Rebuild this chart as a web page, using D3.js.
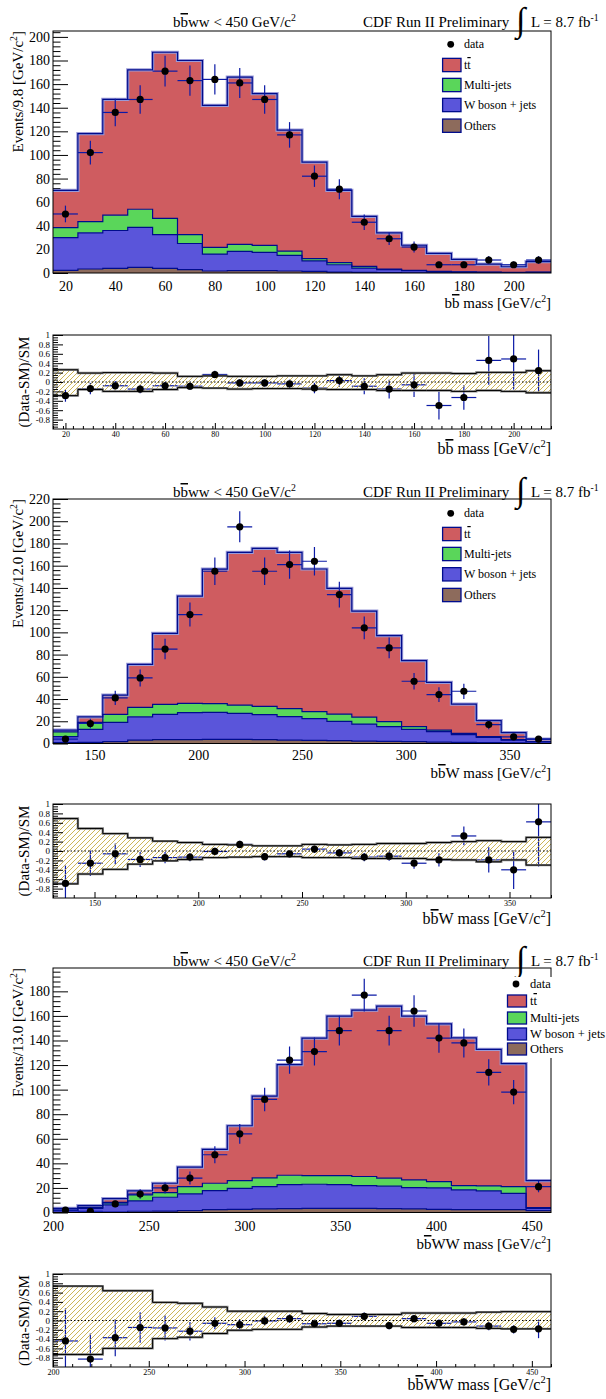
<!DOCTYPE html>
<html><head><meta charset="utf-8">
<script src="https://cdn.jsdelivr.net/npm/d3@7"></script>
<style>body{margin:0;background:#fff} svg text{font-family:"Liberation Serif","DejaVu Serif",serif;}</style>
</head><body>
<script>
// ---------------- DATA ----------------
const legendLabels = ["data", "tt̄", "Multi-jets", "W boson + jets", "Others"];

// Panel 1 : bb mass
const p1Others = [2.3,3.4,4.0,4.8,4.0,2.8,1.7,2.0,2.0,1.7,1.4,0.8,0.6,0.3,0.2,0.1,0.1,0.1,0.1,0.1];
const p1WJets  = [27.7,30.6,32.0,33.9,28.5,22.2,14.3,16.4,15.5,13.3,8.8,6.2,3.6,2.5,1.8,1.0,0.7,0.4,0.3,0.5];
const p1Multi  = [8.4,9.5,13.0,15.3,13.8,7.5,5.7,5.9,5.9,3.6,1.9,1.8,1.4,0.6,0.3,0.3,0.2,0.2,0.1,0.2];
const p1TTbar  = [31.6,74.5,98.0,118.0,140.7,147.5,120.3,141.7,128.6,102.4,81.9,61.2,42.4,30.6,21.2,15.3,10.6,6.8,4.8,8.9];
const p1Data   = [50,102,136,147,171,163,164,161,147,117,82,71,43,29,22,7,7,11,7,11];
const p1Ratio    = [-0.29,-0.14,-0.08,-0.15,-0.08,-0.09,0.16,-0.02,-0.02,-0.04,-0.13,0.03,-0.09,-0.15,-0.06,-0.5,-0.33,0.46,0.49,0.24];
const p1RatioErr = [0.13,0.12,0.1,0.09,0.08,0.08,0.08,0.08,0.08,0.09,0.11,0.13,0.17,0.2,0.26,0.3,0.26,0.52,0.65,0.45];
const p1BandUp = [0.26,0.19,0.2,0.2,0.19,0.12,0.13,0.12,0.12,0.13,0.13,0.155,0.13,0.155,0.19,0.19,0.18,0.205,0.205,0.24];
const p1BandDn = [-0.29,-0.16,-0.2,-0.2,-0.16,-0.12,-0.13,-0.15,-0.14,-0.14,-0.15,-0.16,-0.16,-0.18,-0.18,-0.18,-0.2,-0.18,-0.2,-0.23];
const p1XTicks = [20,40,60,80,100,120,140,160,180,200];
const p1YTicks = [0,20,40,60,80,100,120,140,160,180,200];

// Panel 2 : bbW mass
const p2Others = [0.7,1.0,1.6,3.1,3.4,3.4,3.7,3.7,3.4,3.1,2.8,2.5,2.2,1.9,1.6,1.3,1.0,0.7,0.5,0.3];
const p2WJets  = [5.4,11.7,17.4,20.9,22.8,24.3,24.3,23.4,22.5,21.0,19.5,17.4,15.3,13.2,11.1,9.3,6.9,4.8,2.6,1.3];
const p2Multi  = [4.4,6.3,7.2,8.5,9.0,8.4,7.8,7.5,7.5,7.2,6.3,6.6,6.3,4.5,2.4,1.5,1.2,0.6,0.3,0.2];
const p2TTbar  = [1.6,5.0,17.4,38.7,63.9,96.5,121.1,137.4,142.1,140.7,128.4,113.1,95.4,77.4,59.4,42.9,26.4,14.4,6.3,2.2];
const p2Data   = [4,18,41,59,85,116,155,195,155,161,164,134,104,86,56,44,47,17,6,4];
const p2Ratio    = [-0.69,-0.26,-0.06,-0.18,-0.14,-0.13,-0.01,0.14,-0.12,-0.06,0.04,-0.04,-0.13,-0.11,-0.26,-0.19,0.32,-0.19,-0.4,0.62];
const p2RatioErr = [0.38,0.27,0.22,0.16,0.12,0.09,0.08,0.08,0.08,0.08,0.08,0.08,0.09,0.1,0.12,0.14,0.2,0.27,0.41,0.95];
const p2BandUp = [0.69,0.48,0.37,0.28,0.21,0.18,0.14,0.13,0.11,0.11,0.14,0.13,0.14,0.16,0.16,0.18,0.2,0.22,0.2,0.29];
const p2BandDn = [-0.7,-0.49,-0.39,-0.28,-0.21,-0.18,-0.14,-0.13,-0.12,-0.12,-0.14,-0.14,-0.16,-0.16,-0.16,-0.18,-0.19,-0.23,-0.19,-0.3];
const p2XTicks = [150,200,250,300,350];
const p2YTicks = [0,20,40,60,80,100,120,140,160,180,200,220];

// Panel 3 : bbWW mass
const p3Others = [0.1,0.2,0.3,1.0,1.2,1.5,2.3,2.6,2.9,3.1,3.4,3.4,3.4,3.1,2.9,2.6,2.3,2.3,2.3,1.5];
const p3WJets  = [1.4,3.2,5.8,8.4,11.2,13.6,15.5,17.1,18.2,19.6,19.6,19.3,18.5,18.3,17.4,17.4,16.1,15.3,13.3,1.9];
const p3Multi  = [0.5,0.8,2.2,4.9,3.8,6.0,6.0,6.3,7.1,7.6,7.0,7.3,7.4,6.5,6.2,5.2,3.5,4.0,5.5,0.5];
const p3TTbar  = [1.4,1.4,3.0,3.3,7.6,15.8,27.5,44.6,66.6,90.1,111.9,129.8,135.4,140.1,133.3,128.4,120.3,111.1,100.1,22.1];
const p3Data   = [2,1,7,15,20,28,47,64,92,124,131,148,177,148,164,142,138,114,98,21];
const p3Ratio    = [-0.44,-0.83,-0.37,-0.15,-0.16,-0.23,-0.06,-0.09,-0.01,0.04,-0.07,-0.06,0.09,-0.11,0.04,-0.06,-0.03,-0.12,-0.19,-0.18];
const p3RatioErr = [0.7,0.55,0.4,0.33,0.27,0.2,0.13,0.12,0.1,0.09,0.09,0.08,0.08,0.08,0.08,0.08,0.08,0.09,0.09,0.2];
const p3BandUp = [0.74,0.74,0.64,0.64,0.39,0.37,0.29,0.2,0.2,0.2,0.15,0.13,0.13,0.13,0.16,0.16,0.16,0.18,0.19,0.19];
const p3BandDn = [-0.73,-0.73,-0.6,-0.6,-0.39,-0.36,-0.28,-0.21,-0.19,-0.19,-0.14,-0.12,-0.12,-0.12,-0.15,-0.15,-0.15,-0.17,-0.18,-0.18];
const p3XTicks = [200,250,300,350,400,450];
const p3YTicks = [0,20,40,60,80,100,120,140,160,180];

const ratioYTicks = [-0.8,-0.6,-0.4,-0.2,0,0.2,0.4,0.6,0.8,1];

// ---------------- STYLE ----------------
const FONT = "Liberation Serif, DejaVu Serif, serif";
const X0 = 53, X1 = 551;
const NAVY = "#000c8c";
const ERR = "#0b1aa6";
const COL = {ttbar:"#cf5c60", multi:"#5ad65a", wjets:"#5a55da", others:"#8d6b5c"};
const legendColors = [null, COL.ttbar, COL.multi, COL.wjets, COL.others];

const svg = d3.select("body").append("svg").attr("width",606).attr("height",1399).style("background","#fff");
const defs = svg.append("defs");
defs.append("pattern").attr("id","hatch").attr("patternUnits","userSpaceOnUse")
  .attr("width",5).attr("height",5)
  .append("path").attr("d","M-1,1 l2,-2 M0,5 l5,-5 M4,6 l2,-2")
  .attr("stroke","#c6ae45").attr("stroke-width",0.9);

function setFont(sel, size) {
  sel.style("font-family", FONT).attr("font-size", size).attr("fill", "#000");
}

function rich(g, x, y, parts, size, anchor, rotate) {
  const t = g.append("text").attr("x",x).attr("y",y)
    .attr("text-anchor",anchor||"start");
  setFont(t, size);
  if (rotate) t.attr("transform",`rotate(-90,${x},${y})`);
  let shift = 0;
  parts.forEach(p => {
    const ts = t.append("tspan").text(p.t);
    if (p.sup) { ts.attr("dy", -size*0.42).attr("font-size", size*0.65); shift = size*0.42; }
    else if (shift) { ts.attr("dy", shift); shift = 0; }
    if (p.over) ts.style("text-decoration","overline");
  });
  return t;
}

function header(hy) {
  const g = svg.append("g");
  rich(g, 173, hy, [{t:"b"},{t:"b",over:true},{t:"ww < 450 GeV/c"},{t:"2",sup:true}], 15);
  rich(g, 363, hy, [{t:"CDF Run II Preliminary"}], 15);
  const it = g.append("text").attr("x",516).attr("y",hy+4).text("∫");
  setFont(it, 34);
  rich(g, 531, hy, [{t:"L = 8.7 fb"},{t:"-1",sup:true}], 15);
}

function drawMain(c) {
  const g = svg.append("g");
  const x = d3.scaleLinear().domain(c.xdom).range([X0, X1]);
  const y = d3.scaleLinear().domain([0, c.ymax]).range([c.bottom, c.top]);
  const n = c.data.length, bw = (c.xdom[1]-c.xdom[0])/n;
  const rows = c.data.map((d,i)=>({lo:c.xdom[0]+i*bw, others:c.others[i], wjets:c.wjets[i], multi:c.multi[i], ttbar:c.ttbar[i], data:d}));
  const series = d3.stack().keys(["others","wjets","multi","ttbar"])(rows);

  // ticks (under the histograms)
  const minor = d3.range(0, c.ymax+0.001, 4).filter(v => v % 20 !== 0);
  const ym = g.append("g").attr("transform",`translate(${X0},0)`)
    .call(d3.axisLeft(y).tickValues(minor).tickSizeInner(-7.5).tickSizeOuter(0).tickFormat(""));
  ym.select(".domain").remove();
  const ya = g.append("g").attr("transform",`translate(${X0},0)`)
    .call(d3.axisLeft(y).tickValues(c.yTicks).tickSizeInner(-15).tickSizeOuter(0).tickPadding(3).tickFormat(d3.format("d")));
  ya.select(".domain").remove();
  setFont(ya.selectAll("text"), 14);

  const clipId = "clip"+c.id;
  g.append("clipPath").attr("id",clipId).append("rect").attr("x",X0).attr("y",c.top).attr("width",X1-X0).attr("height",c.bottom-c.top);
  const plot = g.append("g").attr("clip-path",`url(#${clipId})`);
  const pts = s => { const p = s.map((v,i)=>({x:rows[i].lo, y0:v[0], y1:v[1]})); p.push({x:c.xdom[1], y0:s[n-1][0], y1:s[n-1][1]}); return p; };
  const area = d3.area().curve(d3.curveStepAfter).x(p=>x(p.x)).y0(p=>y(p.y0)).y1(p=>y(p.y1));
  const line = d3.line().curve(d3.curveStepAfter).x(p=>x(p.x)).y(p=>y(p.y1));
  plot.selectAll("path.fill").data(series).join("path").attr("class","fill")
    .attr("d", s => area(pts(s))).attr("fill", s => COL[s.key]);
  plot.append("path").attr("d", line(pts(series[3]))).attr("fill","none").attr("stroke","#9a9ad8").attr("stroke-width",3.2);
  plot.selectAll("path.edge").data(series).join("path").attr("class","edge")
    .attr("d", s => line(pts(s))).attr("fill","none").attr("stroke",NAVY).attr("stroke-width",1.2);

  // data points
  const dp = plot.append("g");
  dp.selectAll("line.h").data(rows).join("line").attr("class","h")
    .attr("x1",r=>x(r.lo)).attr("x2",r=>x(r.lo+bw)).attr("y1",r=>y(r.data)).attr("y2",r=>y(r.data))
    .attr("stroke",ERR).attr("stroke-width",1.2);
  dp.selectAll("line.v").data(rows).join("line").attr("class","v")
    .attr("x1",r=>x(r.lo+bw/2)).attr("x2",r=>x(r.lo+bw/2))
    .attr("y1",r=>y(r.data-Math.sqrt(r.data))).attr("y2",r=>y(r.data+Math.sqrt(r.data)))
    .attr("stroke",ERR).attr("stroke-width",1.2);
  dp.selectAll("circle").data(rows).join("circle")
    .attr("cx",r=>x(r.lo+bw/2)).attr("cy",r=>y(r.data)).attr("r",3.6).attr("fill","#000");

  g.append("rect").attr("x",X0).attr("y",c.top).attr("width",X1-X0).attr("height",c.bottom-c.top)
    .attr("fill","none").attr("stroke","#000").attr("stroke-width",1);

  // x labels
  const xa = g.append("g").attr("transform",`translate(0,${c.bottom})`)
    .call(d3.axisBottom(x).tickValues(c.xTicks).tickSize(0).tickPadding(c.xPad).tickFormat(d3.format("d")));
  xa.select(".domain").remove();
  setFont(xa.selectAll("text"), 14);

  rich(g, 23, c.top, c.ytitle, 15, "end", true);
  rich(g, X1, c.xTitleY, c.xtitle, 15, "end");

  // legend
  const L = c.legend;
  const lg = svg.append("g");
  if (L.bg) lg.append("rect").attr("x",L.bg[0]).attr("y",L.bg[1]).attr("width",L.bg[2]).attr("height",L.bg[3]).attr("fill","#fff");
  legendLabels.forEach((lab,i) => {
    const cy = L.rows[i];
    if (i === 0) lg.append("circle").attr("cx",L.markX).attr("cy",cy).attr("r",3.4).attr("fill","#000");
    else lg.append("rect").attr("x",L.boxX).attr("y",cy-L.boxH/2).attr("width",L.boxW).attr("height",L.boxH)
      .attr("fill",legendColors[i]).attr("stroke",NAVY).attr("stroke-width",1.3);
    if (i === 1) rich(lg, L.textX, cy+4, [{t:"t"},{t:"t",over:true}], L.size);
    else rich(lg, L.textX, cy+4, [{t:lab}], L.size);
  });
}

function drawRatio(c) {
  const g = svg.append("g");
  const x = d3.scaleLinear().domain(c.xdom).range([X0, X1]);
  const y = d3.scaleLinear().domain([-1, 1]).range([c.bottom, c.top]);
  const n = c.ratio.length, bw = (c.xdom[1]-c.xdom[0])/n;
  const rows = c.ratio.map((r,i)=>({lo:c.xdom[0]+i*bw, r, e:c.err[i], up:c.up[i], dn:c.dn[i]}));
  const clipId = "rclip"+c.id;
  g.append("clipPath").attr("id",clipId).append("rect").attr("x",X0).attr("y",c.top).attr("width",X1-X0).attr("height",c.bottom-c.top);
  const plot = g.append("g").attr("clip-path",`url(#${clipId})`);

  // error bars
  plot.selectAll("line.h").data(rows).join("line").attr("class","h")
    .attr("x1",d=>x(d.lo)).attr("x2",d=>x(d.lo+bw)).attr("y1",d=>y(d.r)).attr("y2",d=>y(d.r))
    .attr("stroke",ERR).attr("stroke-width",1.2);
  plot.selectAll("line.v").data(rows).join("line").attr("class","v")
    .attr("x1",d=>x(d.lo+bw/2)).attr("x2",d=>x(d.lo+bw/2)).attr("y1",d=>y(d.r-d.e)).attr("y2",d=>y(d.r+d.e))
    .attr("stroke",ERR).attr("stroke-width",1.2);

  // band
  const pts = rows.map(d=>({x:d.lo, up:d.up, dn:d.dn}));
  pts.push({x:c.xdom[1], up:rows[n-1].up, dn:rows[n-1].dn});
  plot.append("path").attr("d", d3.area().curve(d3.curveStepAfter).x(p=>x(p.x)).y0(p=>y(p.dn)).y1(p=>y(p.up))(pts))
    .attr("fill","url(#hatch)");
  ["up","dn"].forEach(k => {
    const ln = d3.line().curve(d3.curveStepAfter).x(p=>x(p.x)).y(p=>y(p[k]));
    plot.append("path").attr("d",ln(pts)).attr("fill","none").attr("stroke","#8a8a8a").attr("stroke-width",2.4);
    plot.append("path").attr("d",ln(pts)).attr("fill","none").attr("stroke","#000").attr("stroke-width",1);
  });
  plot.append("line").attr("x1",X0).attr("x2",X1).attr("y1",y(0)).attr("y2",y(0))
    .attr("stroke","#000").attr("stroke-width",1).attr("stroke-dasharray","1.5,2");
  plot.selectAll("circle").data(rows).join("circle")
    .attr("cx",d=>x(d.lo+bw/2)).attr("cy",d=>y(d.r)).attr("r",3.6).attr("fill","#000");

  // axes
  const ymin = d3.range(-1, 1.0001, 0.05).map(v=>+v.toFixed(2)).filter(v => Math.abs(Math.round(v*5)-v*5) > 1e-6);
  const am = g.append("g").attr("transform",`translate(${X0},0)`)
    .call(d3.axisLeft(y).tickValues(ymin).tickSizeInner(-5).tickSizeOuter(0).tickFormat(""));
  am.select(".domain").remove();
  const ay = g.append("g").attr("transform",`translate(${X0},0)`)
    .call(d3.axisLeft(y).tickValues(ratioYTicks).tickSizeInner(-10).tickSizeOuter(0).tickPadding(3).tickFormat(d => String(+d.toFixed(1))));
  ay.select(".domain").remove();
  setFont(ay.selectAll("text"), 9);

  const xminor = d3.range(c.xdom[0], c.xdom[1]+0.001, c.xMinorStep).filter(v => !c.xTicks.includes(v));
  const bm = g.append("g").attr("transform",`translate(0,${c.bottom})`)
    .call(d3.axisBottom(x).tickValues(xminor).tickSizeInner(-3).tickSizeOuter(0).tickFormat(""));
  bm.select(".domain").remove();
  const ax = g.append("g").attr("transform",`translate(0,${c.bottom})`)
    .call(d3.axisBottom(x).tickValues(c.xTicks).tickSizeInner(-6).tickSizeOuter(0).tickPadding(c.xPad).tickFormat(d3.format("d")));
  ax.select(".domain").remove();
  setFont(ax.selectAll("text"), 8);

  g.append("rect").attr("x",X0).attr("y",c.top).attr("width",X1-X0).attr("height",c.bottom-c.top)
    .attr("fill","none").attr("stroke","#000").attr("stroke-width",1);
  rich(g, 29, (c.top+c.bottom)/2, [{t:"(Data-SM)/SM"}], 15, "middle", true);
  rich(g, X1, c.xTitleY, c.xtitle, 16, "end");
}

// ---------------- DRAW ----------------
const legA = {markX:450.7, textX:464, boxX:442.6, boxW:18.4, boxH:13.3, size:12};

header(27);
drawMain({id:1, xdom:[15,215], ymax:205, top:31, bottom:273, others:p1Others, wjets:p1WJets, multi:p1Multi, ttbar:p1TTbar, data:p1Data,
  yTicks:p1YTicks, xTicks:p1XTicks, xPad:8.5, xTitleY:308,
  ytitle:[{t:"Events/9.8 [GeV/c"},{t:"2",sup:true},{t:"]"}],
  xtitle:[{t:"b"},{t:"b",over:true},{t:" mass [GeV/c"},{t:"2",sup:true},{t:"]"}],
  legend:Object.assign({rows:[44.3,65,85,105,125.7]}, legA)});
drawRatio({id:1, xdom:[15,215], top:335, bottom:429, ratio:p1Ratio, err:p1RatioErr, up:p1BandUp, dn:p1BandDn,
  xTicks:p1XTicks, xMinorStep:4, xPad:2.5, xTitleY:454,
  xtitle:[{t:"b"},{t:"b",over:true},{t:" mass [GeV/c"},{t:"2",sup:true},{t:"]"}]});

header(497);
drawMain({id:2, xdom:[130,370], ymax:220, top:499, bottom:743.5, others:p2Others, wjets:p2WJets, multi:p2Multi, ttbar:p2TTbar, data:p2Data,
  yTicks:p2YTicks, xTicks:p2XTicks, xPad:6.6, xTitleY:778,
  ytitle:[{t:"Events/12.0 [GeV/c"},{t:"2",sup:true},{t:"]"}],
  xtitle:[{t:"b"},{t:"b",over:true},{t:"W mass [GeV/c"},{t:"2",sup:true},{t:"]"}],
  legend:Object.assign({rows:[513.3,534,554,574.3,595]}, legA)});
drawRatio({id:2, xdom:[130,370], top:804, bottom:898, ratio:p2Ratio, err:p2RatioErr, up:p2BandUp, dn:p2BandDn,
  xTicks:p2XTicks, xMinorStep:10, xPad:2.5, xTitleY:924,
  xtitle:[{t:"b"},{t:"b",over:true},{t:"W mass [GeV/c"},{t:"2",sup:true},{t:"]"}]});

header(966);
drawMain({id:3, xdom:[200,460], ymax:199, top:968, bottom:1212.5, others:p3Others, wjets:p3WJets, multi:p3Multi, ttbar:p3TTbar, data:p3Data,
  yTicks:p3YTicks, xTicks:p3XTicks, xPad:9, xTitleY:1249,
  ytitle:[{t:"Events/13.0 [GeV/c"},{t:"2",sup:true},{t:"]"}],
  xtitle:[{t:"b"},{t:"b",over:true},{t:"WW mass [GeV/c"},{t:"2",sup:true},{t:"]"}],
  legend:{markX:516, textX:530, boxX:507.5, boxW:19, boxH:12, size:12.5, rows:[984,1001,1018,1034,1049], bg:[503,977,103,81]}});
drawRatio({id:3, xdom:[200,460], top:1274, bottom:1367, ratio:p3Ratio, err:p3RatioErr, up:p3BandUp, dn:p3BandDn,
  xTicks:p3XTicks, xMinorStep:10, xPad:2.5, xTitleY:1390,
  xtitle:[{t:"b"},{t:"b",over:true},{t:"WW mass [GeV/c"},{t:"2",sup:true},{t:"]"}]});
</script>
</body></html>
